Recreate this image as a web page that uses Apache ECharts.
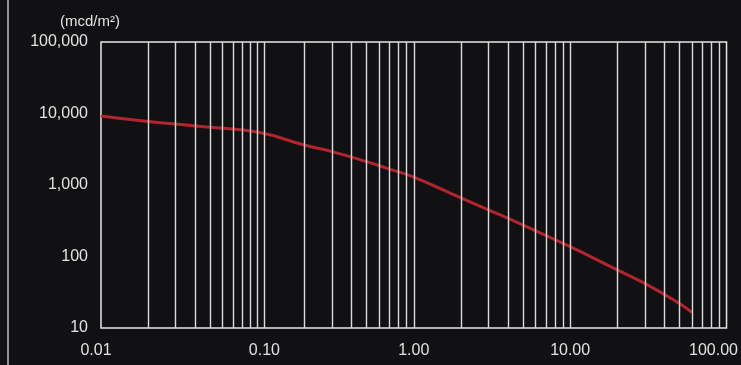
<!DOCTYPE html>
<html>
<head>
<meta charset="utf-8">
<script src="https://cdn.jsdelivr.net/npm/echarts@6/dist/echarts.min.js"></script>
<style>
  html, body { margin: 0; padding: 0; background: #111113; }
  #chart { width: 741px; height: 365px; }
</style>
</head>
<body>
<div id="chart"></div>
<script>
// decay curve (time vs luminance, log-log)
var timeVals = [0.01, 0.02, 0.03, 0.05, 0.1, 0.2, 0.3, 0.5, 0.7, 1, 2, 3, 5, 10, 20, 30, 50, 60]
var lumVals = [9200, 7700, 7150, 6400, 5500, 3620, 2930, 2120, 1670, 1290, 660, 450, 275, 137, 65, 42, 22, 16.5]
// vertical grid lines drawn on the sheet
var gridX = [0.02, 0.03, 0.04, 0.05, 0.06, 0.07, 0.08, 0.09, 0.1, 0.11,
  0.2, 0.3, 0.4, 0.5, 0.6, 0.7, 0.8, 0.9, 1,
  2, 3, 4, 5, 6, 7, 8, 9, 10,
  20, 30, 40, 50, 60, 70, 80, 90]
var unitName = '(mcd/m²)'

var font = 'Liberation Sans, Arial, sans-serif'
var txt = '#e2e2e2'

var chart = echarts.init(document.getElementById('chart'))
chart.setOption({
  backgroundColor: '#111113',
  animation: false,
  grid: {
    left: 101,
    right: 13,
    top: 42,
    bottom: 37,
    show: true,
    borderColor: '#e6e6e6',
    borderWidth: 1.5
  },
  graphic: [{
    type: 'line',
    shape: { x1: 8, y1: 0, x2: 8, y2: 365 },
    style: { stroke: '#bdbdbd', lineWidth: 1.5 },
    silent: true
  }],
  xAxis: {
    type: 'log',
    logBase: 10,
    min: 0.01,
    max: 100,
    axisLine: { show: false },
    axisTick: { show: false },
    splitLine: { show: false },
    axisLabel: {
      color: txt,
      fontSize: 16,
      fontFamily: font,
      margin: 15,
      formatter: function (v) {
        var s = Number(v).toFixed(2)
        if (s === '0.01') return '{c|' + s + '}'
        if (s === '0.10') return '{a|' + s + '}'
        if (s === '100.00') return '{b|' + s + '}'
        return s
      },
      rich: {
        a: { color: txt, fontSize: 16, fontFamily: font, padding: [0, 0, 0, 14] },
        b: { color: txt, fontSize: 16, fontFamily: font, padding: [0, 26, 0, 0] },
        c: { color: txt, fontSize: 16, fontFamily: font, padding: [0, 10, 0, 0] }
      }
    }
  },
  yAxis: {
    type: 'log',
    logBase: 10,
    min: 10,
    max: 100000,
    name: unitName,
    nameLocation: 'end',
    nameGap: 13,
    nameTextStyle: {
      color: txt,
      fontSize: 15,
      fontFamily: font,
      align: 'center',
      padding: [0, 22, 0, 0]
    },
    axisLine: { show: false },
    axisTick: { show: false },
    splitLine: { show: false },
    axisLabel: {
      color: txt,
      fontSize: 16,
      fontFamily: font,
      margin: 13,
      formatter: function (v) {
        return Math.round(v).toLocaleString('en-US')
      }
    }
  },
  series: [{
    // grid lines only
    type: 'line',
    data: [],
    z: 1,
    silent: true,
    markLine: {
      silent: true,
      symbol: ['none', 'none'],
      label: { show: false },
      lineStyle: { type: 'solid', color: '#dadada', width: 1.4 },
      data: gridX.map(function (v) { return { xAxis: v } })
    }
  }, {
    type: 'line',
    z: 3,
    data: timeVals.map(function (t, i) { return [t, lumVals[i]] }),
    showSymbol: false,
    smooth: 0.5,
    lineStyle: { color: '#b3242d', width: 3 }
  }]
})
</script>
</body>
</html>
